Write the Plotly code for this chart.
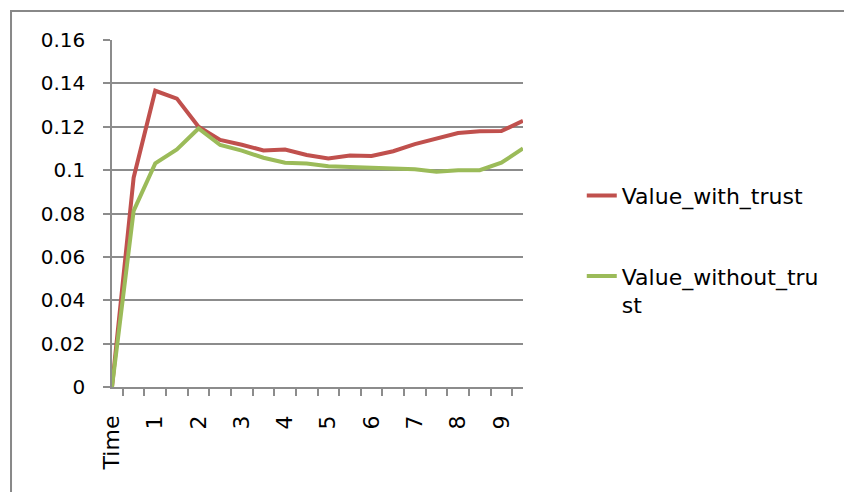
import plotly.graph_objects as go

# Time steps (every other step is labelled on the axis)
categories = ["Time", "0.5", "1", "1.5", "2", "2.5", "3", "3.5", "4", "4.5",
              "5", "5.5", "6", "6.5", "7", "7.5", "8", "8.5", "9", "9.5"]
axis_labels = ["Time", "", "1", "", "2", "", "3", "", "4", "",
               "5", "", "6", "", "7", "", "8", "", "9", ""]

value_with_trust = [0, 0.0965, 0.1366, 0.1330, 0.1200, 0.1139, 0.1117, 0.1091,
                    0.1095, 0.1070, 0.1054, 0.1067, 0.1065, 0.1087, 0.1120,
                    0.1145, 0.1171, 0.1179, 0.1180, 0.1227]
value_without_trust = [0, 0.0812, 0.1031, 0.1095, 0.1192, 0.1116, 0.1090, 0.1057,
                       0.1034, 0.1031, 0.1018, 0.1014, 0.1012, 0.1008, 0.1004,
                       0.0993, 0.1000, 0.1000, 0.1034, 0.1100]

y_ticks = [0, 0.02, 0.04, 0.06, 0.08, 0.1, 0.12, 0.14, 0.16]
y_tick_text = ["0", "0.02", "0.04", "0.06", "0.08", "0.1", "0.12", "0.14", "0.16"]

FONT = "DejaVu Sans, sans-serif"
GRID = "#8C8C8C"

fig = go.Figure()
fig.add_trace(go.Scatter(
    x=categories, y=value_with_trust, mode="lines", name="Value_with_trust",
    line=dict(color="#C0504D", width=4), legendgroup="a"))
fig.add_trace(go.Scatter(
    x=categories, y=value_without_trust, mode="lines",
    name="Value_without_tru<br>st",
    line=dict(color="#9BBB59", width=4), legendgroup="b"))

fig.update_layout(
    width=844, height=492,
    margin=dict(l=112, r=321, t=40, b=105),
    paper_bgcolor="white", plot_bgcolor="white",
    font=dict(family=FONT, size=20, color="black"),
    showlegend=True,
    legend=dict(x=1.143, y=0.612, xanchor="left", yanchor="top",
                valign="top", tracegroupgap=49,
                font=dict(family=FONT, size=22, color="black"),
                bgcolor="rgba(0,0,0,0)"),
    xaxis=dict(type="category", tickson="boundaries",
               tickmode="array", tickvals=categories, ticktext=axis_labels,
               tickangle=-90, ticks="outside", ticklen=7, tickwidth=1.5,
               tickcolor=GRID, showline=True, linecolor=GRID, linewidth=1.5,
               showgrid=False, zeroline=False, ticklabelstandoff=18,
               tickfont=dict(family=FONT, size=22)),
    yaxis=dict(range=[0, 0.16], tickmode="array", tickvals=y_ticks,
               ticktext=y_tick_text, ticks="outside", ticklen=7,
               tickwidth=1.5, tickcolor=GRID, showline=True, linecolor=GRID,
               linewidth=1.5, showgrid=True, gridcolor=GRID, gridwidth=1.5,
               zeroline=False, ticklabelstandoff=14,
               tickfont=dict(family=FONT, size=20)),
    shapes=[dict(type="rect", xref="paper", yref="paper",
                 x0=-0.2457, y0=-0.5, x1=1.95, y1=1.0836,
                 line=dict(color="#888888", width=2), layer="above")],
)

fig.write_html("out.html")
